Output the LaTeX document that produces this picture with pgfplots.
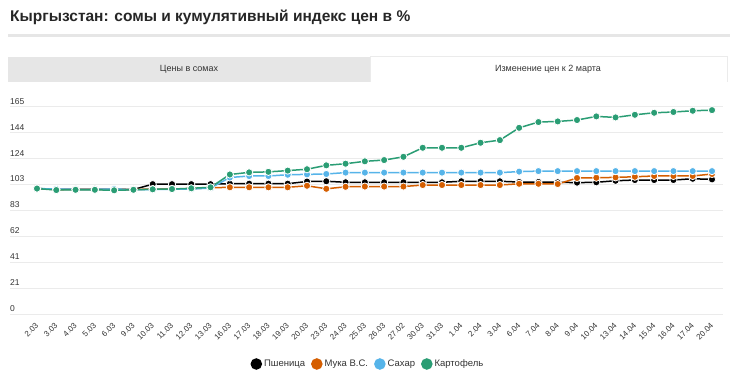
\documentclass[border=0pt]{standalone}
\usepackage{fontspec}
\setmainfont{Liberation Sans}
\usepackage{pgfplots}
\usepackage{pgfplotstable}
\pgfplotsset{compat=1.18}
\definecolor{cBlack}{HTML}{000000}
\definecolor{cOrange}{HTML}{D55E00}
\definecolor{cBlue}{HTML}{56B4E9}
\definecolor{cGreen}{HTML}{2A9D74}
\definecolor{gridc}{HTML}{EBEBEB}
\definecolor{tabc}{HTML}{E6E6E6}
\definecolor{txt}{HTML}{333333}

\pgfplotstableread{
i wheat flour sugar potato
0 100 100 100 100
1 99.4 99.2 99.6 98.8
2 99.4 99.3 99.4 99.0
3 99.4 99.3 99.4 99.0
4 99.3 99.2 99.6 98.6
5 99.2 99.3 99.2 99.0
6 103.5 99.6 99.2 99.4
7 103.5 99.7 99.4 99.6
8 103.5 99.9 99.6 100.2
9 103.5 100.6 100.4 101.0
10 103.9 101.0 108.8 111.2
11 103.9 101.0 110.0 112.9
12 103.9 101.0 110.0 113.3
13 103.9 101.0 111.0 114.3
14 105.6 102.2 111.3 115.4
15 105.8 99.8 111.6 118.5
16 105.0 101.4 112.7 119.8
17 105.0 101.6 112.7 121.7
18 105.0 101.6 112.7 122.7
19 105.0 101.6 112.7 125.3
20 105.0 102.8 112.7 132.5
21 105.0 102.8 112.7 132.5
22 105.8 102.8 112.7 132.5
23 105.8 102.8 112.7 136.5
24 105.8 102.8 112.7 138.6
25 105.2 103.8 113.5 148.4
26 105.2 103.8 113.9 153.0
27 105.0 103.6 113.9 153.5
28 104.7 108.4 113.9 154.6
29 105.0 108.6 113.9 157.5
30 106.2 108.9 113.9 156.7
31 106.8 109.4 113.9 158.8
32 106.8 110.0 113.9 160.4
33 106.8 110.0 113.9 161.0
34 107.8 110.0 113.9 162.0
35 107.3 111.6 113.9 162.5
}\data

\begin{document}
\begin{tikzpicture}[x=1pt,y=1pt]
\fill[white] (0,0) rectangle (730,383);
\path[use as bounding box] (0,0) rectangle (730,383);
\node[anchor=base west, inner sep=0, font=\bfseries\fontsize{15.5}{18}\selectfont, text=black!85] at (10,361) {Кыргызстан: сомы и кумулятивный индекс цен в \%};
\fill[tabc] (8,346) rectangle (730,349);
\fill[tabc] (8,301) rectangle (370,326);
\draw[gridc, line width=1pt] (370,301) -- (370,326) -- (727,326) -- (727,301);
\node[font=\fontsize{9}{10}\selectfont, text=txt] at (189,314) {Цены в сомах};
\node[font=\fontsize{9}{10}\selectfont, text=txt] at (548,314) {Изменение цен к 2 марта};
\begin{axis}[
  at={(10pt,69pt)}, anchor=south west, scale only axis,
  width=713pt, height=207pt,
  xmin=-1.4, xmax=35.57, ymin=0, ymax=165,
  axis line style={draw=none},
  major tick length=0pt,
  clip=false,
  ymajorgrids, grid style={gridc, line width=1pt},
  ytick={0,20.625,41.25,61.875,82.5,103.125,123.75,144.375,165},
  yticklabels={0,21,41,62,83,103,124,144,165},
  yticklabel style={anchor=south west, inner sep=0pt, yshift=2.5pt, font=\fontsize{8.5}{9}\selectfont, text=txt},
  xtick={0,...,35},
  xticklabels={2.03,3.03,4.03,5.03,6.03,9.03,10.03,11.03,12.03,13.03,16.03,17.03,18.03,19.03,20.03,23.03,24.03,25.03,26.03,27.02,30.03,31.03,1.04,2.04,3.04,6.04,7.04,8.04,9.04,10.04,13.04,14.04,15.04,16.04,17.04,20.04},
  xticklabel style={xshift=0pt, yshift=-10pt, rotate=45, anchor=east, inner sep=0pt, font=\fontsize{8}{9}\selectfont, text=txt},
  /pgf/number format/assume math mode=true,
  every axis plot/.append style={line width=1.5pt, mark=*, mark size=3.6pt},
  legend style={at={(0.502,-0.2415)}, anchor=center, draw=none, fill=none,
    legend columns=4, font=\fontsize{9.5}{10}\selectfont, text=txt,
    /tikz/every even column/.append style={column sep=4pt}},
  legend image code/.code={\fill[#1] (5pt,0pt) circle (5pt);},
]
\addplot[color=cBlack, mark options={draw=white, line width=0.8pt, fill=cBlack}] table[x=i, y=wheat] {\data};
\addlegendentry{Пшеница}
\addplot[color=cOrange, mark options={draw=white, line width=0.8pt, fill=cOrange}] table[x=i, y=flour] {\data};
\addlegendentry{Мука В.С.}
\addplot[color=cBlue, mark options={draw=white, line width=0.8pt, fill=cBlue}] table[x=i, y=sugar] {\data};
\addlegendentry{Сахар}
\addplot[color=cGreen, mark options={draw=white, line width=0.8pt, fill=cGreen}] table[x=i, y=potato] {\data};
\addlegendentry{Картофель}
\end{axis}
\end{tikzpicture}
\end{document}
